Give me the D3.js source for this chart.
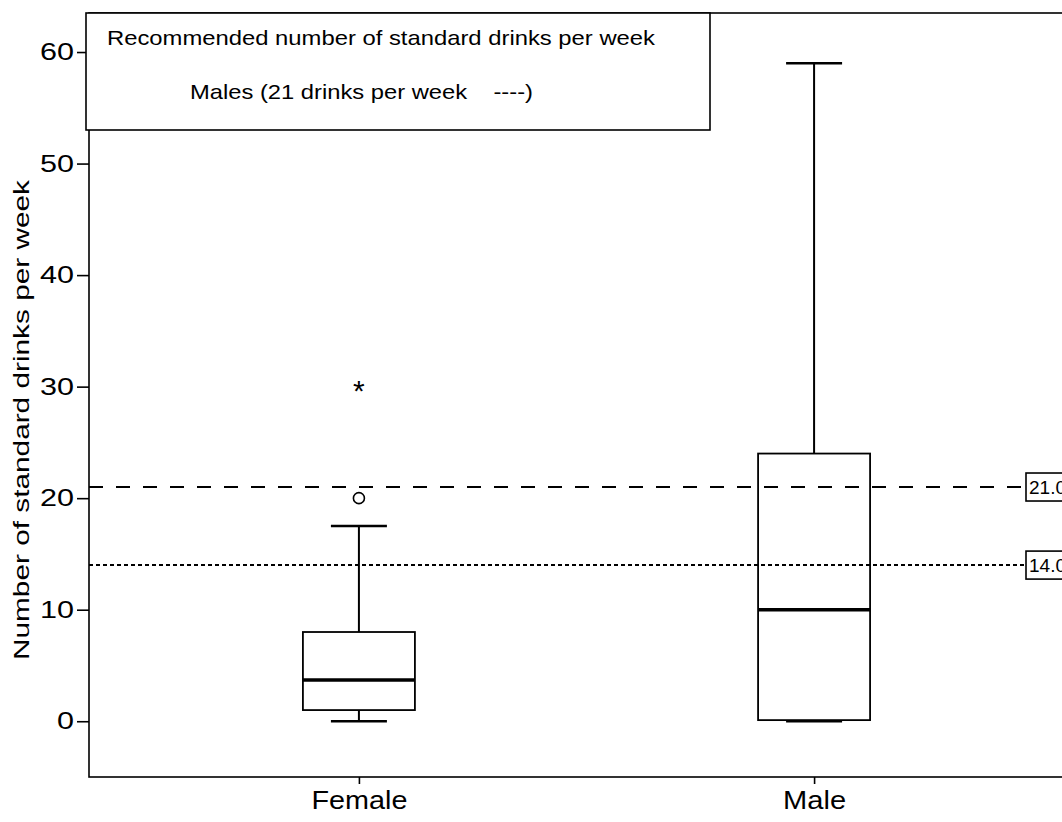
<!DOCTYPE html>
<html>
<head>
<meta charset="utf-8">
<script src="https://cdn.jsdelivr.net/npm/d3@7"></script>
<style>
  html, body { margin: 0; padding: 0; background: #fff; }
  svg { display: block; font-family: "Liberation Sans", Arial, sans-serif; }
</style>
</head>
<body>
<svg id="chart" width="1062" height="822"></svg>
<script>
// ---- data ----
const categories = ["Female", "Male"];
const q1Values = [1, 0.1];
const medianValues = [3.7, 10];
const q3Values = [8, 24];
const whiskerLow = [0, 0];
const whiskerHigh = [17.5, 59];
const outlierCircles = [{cat: "Female", value: 20}];
const outlierStars = [{cat: "Female", value: 30}];
const refLines = [{value: 21, label: "21.0", dash: "14,13"}, {value: 14, label: "14.0", dash: "4,3"}];
const yTicks = [0, 10, 20, 30, 40, 50, 60];
const legendLines = ["Recommended number of standard drinks per week", "Males (21 drinks per week    ----)"];
const yTitle = "Number of standard drinks per week";

// ---- layout ----
const svg = d3.select("#chart");
const mLeft = 89, mRight = 1084, mTop = 13, mBottom = 777;

const y = d3.scaleLinear().domain([-5, 63.5]).range([mBottom, mTop]);
const x = d3.scalePoint().domain(categories).range([mLeft, mRight]).padding(0.593);

const boxW = 112, capW = 56;

// frame
svg.append("rect").attr("x", mLeft).attr("y", mTop).attr("width", mRight - mLeft).attr("height", mBottom - mTop)
  .attr("fill", "none").attr("stroke", "#000").attr("stroke-width", 1.6);

// y axis
const yAxis = d3.axisLeft(y).tickValues(yTicks).tickSize(12).tickPadding(3);
const gy = svg.append("g").attr("transform", `translate(${mLeft},0)`).call(yAxis);
gy.select(".domain").remove();
gy.selectAll(".tick line").attr("stroke", "#000").attr("stroke-width", 1.6);
gy.selectAll(".tick text").attr("font-size", 24).attr("fill", "#000")
  .attr("font-family", "Liberation Sans, Arial, sans-serif")
  .each(function(d) {
    d3.select(this).attr("textLength", String(d).length * 17).attr("lengthAdjust", "spacingAndGlyphs");
  });

// x axis
const xAxis = d3.axisBottom(x).tickSize(7).tickPadding(7);
const gx = svg.append("g").attr("transform", `translate(0,${mBottom})`).call(xAxis);
gx.select(".domain").remove();
gx.selectAll(".tick line").attr("stroke", "#000").attr("stroke-width", 1.6);
gx.selectAll(".tick text").attr("font-size", 25).attr("fill", "#000")
  .attr("font-family", "Liberation Sans, Arial, sans-serif")
  .attr("textLength", d => d === "Female" ? 96 : 63).attr("lengthAdjust", "spacingAndGlyphs");

// y title
svg.append("text")
  .attr("transform", `translate(29,420) rotate(-90)`)
  .attr("text-anchor", "middle")
  .attr("font-size", 22)
  .attr("textLength", 480).attr("lengthAdjust", "spacingAndGlyphs")
  .text(yTitle);

// boxes
const boxes = categories.map((c, i) => ({c, q1: q1Values[i], med: medianValues[i], q3: q3Values[i], lo: whiskerLow[i], hi: whiskerHigh[i]}));
const bg = svg.append("g");
boxes.forEach(b => {
  const cx = x(b.c);
  bg.append("line").attr("x1", cx).attr("x2", cx).attr("y1", y(b.q3)).attr("y2", y(b.hi)).attr("stroke", "#000").attr("stroke-width", 2);
  bg.append("line").attr("x1", cx).attr("x2", cx).attr("y1", y(b.q1)).attr("y2", y(b.lo)).attr("stroke", "#000").attr("stroke-width", 2);
  bg.append("line").attr("x1", cx - capW / 2).attr("x2", cx + capW / 2).attr("y1", y(b.hi)).attr("y2", y(b.hi)).attr("stroke", "#000").attr("stroke-width", 2.5);
  bg.append("line").attr("x1", cx - capW / 2).attr("x2", cx + capW / 2).attr("y1", y(b.lo)).attr("y2", y(b.lo)).attr("stroke", "#000").attr("stroke-width", 2.5);
  bg.append("rect").attr("x", cx - boxW / 2).attr("y", y(b.q3)).attr("width", boxW).attr("height", y(b.q1) - y(b.q3))
    .attr("fill", "#fff").attr("stroke", "#000").attr("stroke-width", 1.8);
  bg.append("line").attr("x1", cx - boxW / 2).attr("x2", cx + boxW / 2).attr("y1", y(b.med)).attr("y2", y(b.med))
    .attr("stroke", "#000").attr("stroke-width", 3.5);
});

// reference lines (drawn over the boxes)
const refG = svg.append("g");
refLines.forEach(r => {
  refG.append("line").attr("x1", mLeft).attr("x2", mRight).attr("y1", y(r.value)).attr("y2", y(r.value))
    .attr("stroke", "#000").attr("stroke-width", 2).attr("stroke-dasharray", r.dash);
});

// outliers
outlierCircles.forEach(o => {
  svg.append("circle").attr("cx", x(o.cat)).attr("cy", y(o.value)).attr("r", 5.5)
    .attr("fill", "#fff").attr("stroke", "#000").attr("stroke-width", 1.6);
});
outlierStars.forEach(o => {
  svg.append("text").attr("x", x(o.cat)).attr("y", y(o.value) + 14).attr("text-anchor", "middle")
    .attr("font-size", 30).text("*");
});

// reference labels
refLines.forEach(r => {
  const g = svg.append("g").attr("transform", `translate(1026,${y(r.value)})`);
  g.append("rect").attr("x", 0).attr("y", -14).attr("width", 60).attr("height", 28)
    .attr("fill", "#fff").attr("stroke", "#000").attr("stroke-width", 1.6);
  g.append("text").attr("x", 3).attr("y", 7).attr("font-size", 19).text(r.label);
});

// legend box
const lg = svg.append("g");
lg.append("rect").attr("x", 86).attr("y", 13).attr("width", 624).attr("height", 117)
  .attr("fill", "#fff").attr("stroke", "#000").attr("stroke-width", 1.6);
lg.append("text").attr("x", 107).attr("y", 45).attr("font-size", 21)
  .attr("textLength", 548).attr("lengthAdjust", "spacingAndGlyphs").text(legendLines[0]);
lg.append("text").attr("x", 190).attr("y", 99).attr("font-size", 21)
  .style("white-space", "pre")
  .attr("textLength", 343).attr("lengthAdjust", "spacingAndGlyphs").text(legendLines[1]);
</script>
</body>
</html>
